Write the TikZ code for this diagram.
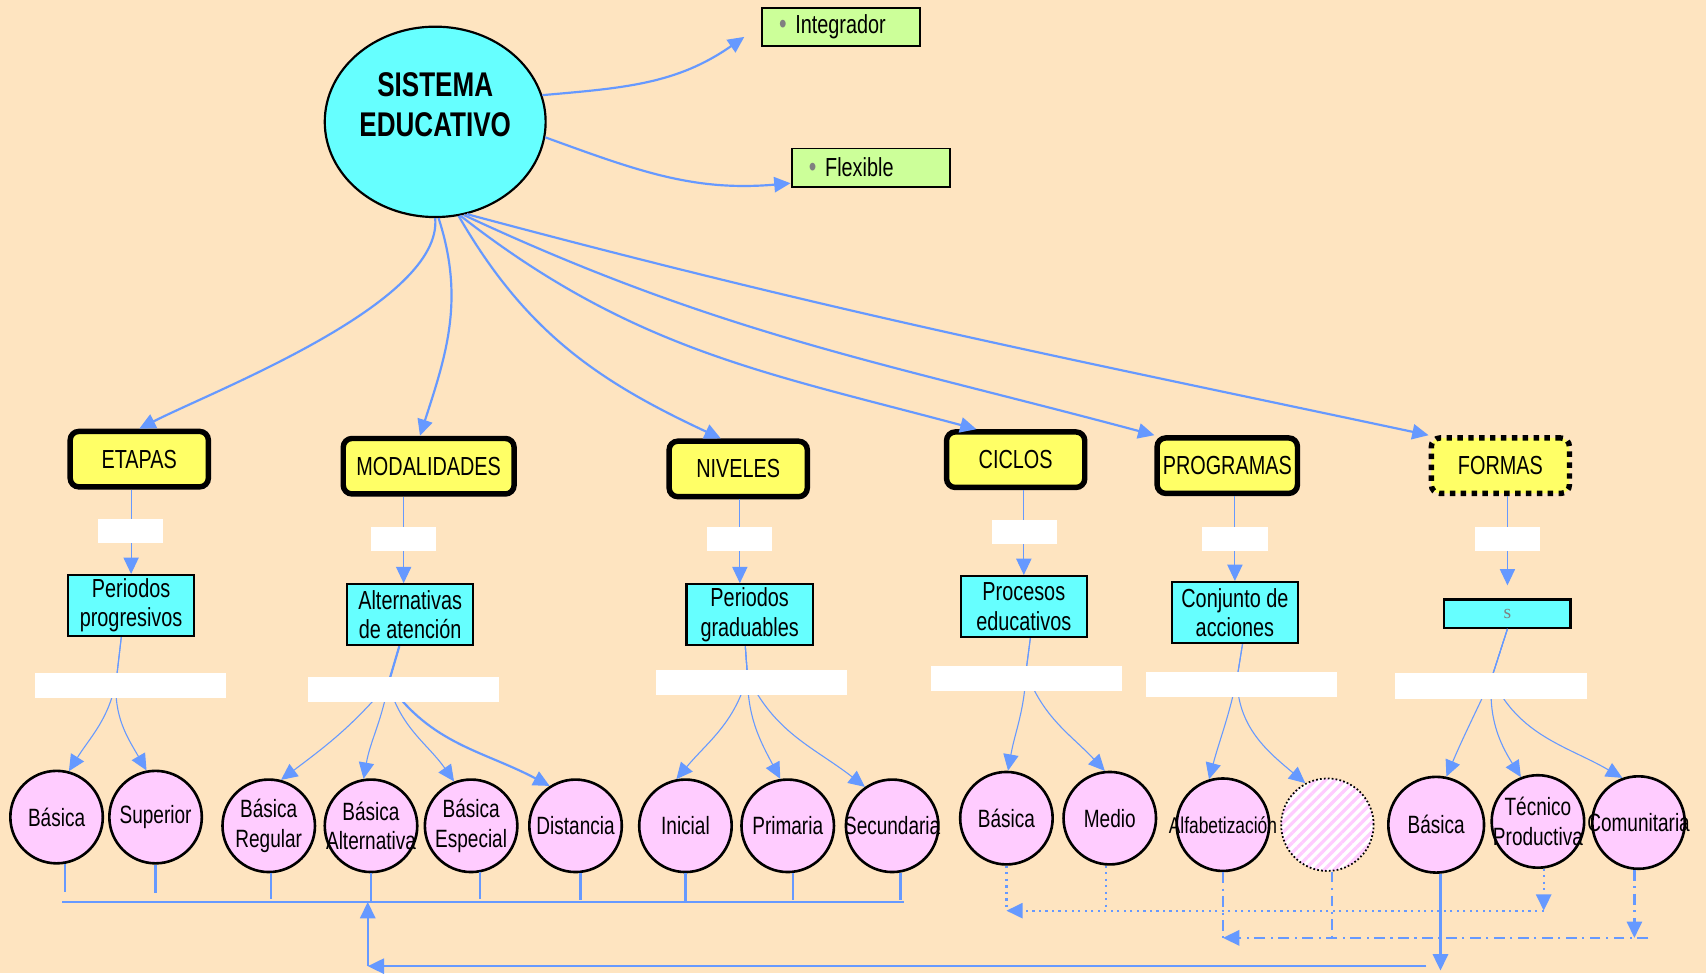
\documentclass[tikz,border=0pt]{standalone}
\usepackage{fontspec}
\setmainfont{Liberation Sans}[FakeStretch=0.76]
\newfontfamily\serifgris{Liberation Serif}
\usetikzlibrary{shapes.geometric,arrows.meta,patterns.meta}

\definecolor{fondo}{RGB}{254,228,192}
\definecolor{cian}{RGB}{102,255,255}
\definecolor{amarillo}{RGB}{255,255,102}
\definecolor{verde}{RGB}{204,255,153}
\definecolor{rosa}{RGB}{255,204,255}
\definecolor{azul}{RGB}{102,153,255}

\newcommand{\sinancho}[1]{\makebox[0pt]{#1}}
\newcommand{\punto}{\textcolor{gray}{\fontsize{13}{13}\selectfont•}}

\tikzset{
  raiz/.style={ellipse, draw, line width=1pt, fill=cian, inner sep=0pt,
    minimum width=101.5pt, minimum height=87.5pt, align=center,
    font=\fontsize{15.75}{18}\selectfont\bfseries},
  rasgo/.style={draw, line width=0.9pt, fill=verde, text width=57pt,
    inner xsep=8pt, inner ysep=0pt, minimum height=17.5pt, align=left,
    font=\fontsize{12}{13}\selectfont},
  grupo/.style={draw, line width=2.5pt, rounded corners=4pt, fill=amarillo,
    inner xsep=2pt, minimum width=63.5pt, minimum height=25.5pt,
    font=\fontsize{12}{13}\selectfont},
  detalle/.style={draw, line width=1pt, fill=cian, minimum width=58pt,
    minimum height=28pt, inner sep=1pt, align=center,
    font=\fontsize{12}{13.5}\selectfont},
  tipo/.style={circle, draw, line width=1.2pt, fill=rosa, minimum size=42.5pt,
    inner sep=0pt, align=center, font=\fontsize{11.5}{13.5}\selectfont},
  hueca/.style={circle, minimum size=42.5pt,
    preaction={fill=white},
    preaction={solid, pattern={Lines[angle=45,distance=3.2pt,line width=1.5pt]},
      pattern color=rosa},
    draw, densely dotted, line width=0.8pt},
  hueco/.style={fill=white, minimum width=30pt, minimum height=11pt, inner sep=0pt},
  huecol/.style={hueco, minimum width=88pt, minimum height=11.5pt},
  flecha/.style={draw=azul, -{Triangle[length=7.5pt,width=7pt]}},
  guia/.style={flecha, line width=1pt},
  fina/.style={flecha, line width=0.5pt},
  base/.style={draw=azul, line width=1pt},
  punteado/.style={base, dotted},
  rayapunto/.style={base, dash pattern=on 5pt off 2.5pt on 1pt off 2.5pt},
}

\begin{document}
\begin{tikzpicture}[x=0.5pt,y=-0.5pt]
    % fondo
    \fill[fondo] (0,0) rectangle (1568,894.3);
    \useasboundingbox (0,0) rectangle (1568,894.3);

    % raiz y rasgos
    \node[raiz] (sis) at (400,112) {SISTEMA\\EDUCATIVO\\[-2pt]\mbox{}};
    \node[rasgo] (integ) at (773,24.5) {\punto\ Integrador};
    \node[rasgo] (flex) at (800.5,154) {\punto\ Flexible};

    % grupos
    \node[grupo] (etapas) at (128,422) {ETAPAS};
    \node[grupo, minimum width=78.5pt] (modal) at (394,428.5) {MODALIDADES};
    \node[grupo] (niveles) at (678.5,431) {NIVELES};
    \node[grupo] (ciclos) at (933.5,422.5) {CICLOS};
    \node[grupo, minimum width=64.5pt] (progr) at (1128,428) {PROGRAMAS};
    \node[grupo, dash pattern=on 2.5pt off 2.5pt] (formas) at (1379,428) {FORMAS};

    % detalles
    \node[detalle] (prog) at (120.5,556.5) {Periodos\\progresivos};
    \node[detalle] (alt) at (377,565) {Alternativas\\de atención};
    \node[detalle] (grad) at (689,565) {Periodos\\graduables};
    \node[detalle] (proc) at (941,557.5) {Procesos\\educativos};
    \node[detalle] (conj) at (1135,563) {Conjunto de\\acciones};
    \node[detalle, minimum height=13pt] (sbox) at (1385.5,564)
        {\serifgris\fontsize{9}{9}\selectfont\textcolor{gray}{s}};

    % tipos
    \node[tipo] (b1) at (52,751) {Básica};
    \node[tipo] (sup) at (143,751) {Superior};
    \node[tipo] (breg) at (247,759) {Básica\\Regular};
    \node[tipo] (balt) at (341,759) {Básica\\\sinancho{Alternativa}};
    \node[tipo] (besp) at (433,759) {Básica\\Especial};
    \node[tipo] (dist) at (529,759) {Distancia};
    \node[tipo] (inic) at (630,759) {Inicial};
    \node[tipo] (prim) at (724,759) {Primaria};
    \node[tipo] (sec) at (820,759) {\sinancho{Secundaria}};
    \node[tipo] (bc) at (925,752) {Básica};
    \node[tipo] (med) at (1020,752) {Medio};
    \node[tipo, font=\fontsize{10.5}{12}\selectfont] (alf) at (1124,758) {\sinancho{Alfabetización}};
    \node[hueca] (hat) at (1220,758) {};
    \node[tipo, minimum size=44pt] (bf) at (1320,758) {Básica};
    \node[tipo] (tp) at (1413.5,755) {Técnico\\\sinancho{Productiva}};
    \node[tipo] (com) at (1506,756) {\sinancho{Comunitaria}};

    % enlaces de la raiz
    \draw[guia] (sis.14) to[out=5,in=215] ([shift={(-15,-9)}]integ.south west);
    \draw[guia] (sis.-8) to[out=-20,in=185] ([yshift=2pt]flex.south west);
    \draw[guia] (sis.south) to[out=-85,in=27,looseness=0.6] (etapas.north);
    \draw[guia] (sis.-88) to[out=-72,in=72] ([xshift=-4pt]modal.north);
    \draw[guia] (sis.-76) to[out=-60,in=155] ([xshift=-8pt]niveles.north);
    \draw[guia] (sis.-75) to[out=-38,in=165] ([xshift=-18pt]ciclos.north);
    \draw[guia] (sis.-73) to[out=-25,in=165] (progr.north west);
    \draw[guia] (sis.-71) to[out=-15,in=168] (formas.north west);

    % grupos a detalles
    \coordinate (am) at ([xshift=-3pt]alt.north);
    \coordinate (gm) at ([xshift=-4.5pt]grad.north);
    \coordinate (sm) at ([yshift=6pt]sbox.north);
    \draw[fina] (prog.north |- etapas.south) -- (prog.north);
    \draw[fina] (am |- modal.south) -- (am);
    \draw[fina] (gm |- niveles.south) -- (gm);
    \draw[fina] (proc.north |- ciclos.south) -- (proc.north);
    \draw[fina] (conj.north |- progr.south) -- (conj.north);
    \draw[fina] (sm |- formas.south) -- (sm);

    % puntos de reparto (bajo las etiquetas vacias)
    \coordinate (r1) at (107,624);
    \coordinate (r2) at (357,628);
    \coordinate (r3) at (687,621);
    \coordinate (r4) at (943,617);
    \coordinate (r5) at (1137,623);
    \coordinate (r6) at (1371,623);

    % detalles a tipos
    \draw[fina] ([xshift=-4.5pt]prog.south) -- (r1) to[out=-100,in=58] (b1.75);
    \draw[fina] ([xshift=-4.5pt]prog.south) -- (r1) to[out=-95,in=120] (sup.101);
    \draw[fina] ([xshift=-5pt]alt.south) -- (r2) to[out=-130,in=37] (breg.75);
    \draw[fina] ([xshift=-5pt]alt.south) -- (r2) to[out=-100,in=80] (balt.99);
    \draw[fina] ([xshift=-5pt]alt.south) -- (r2) to[out=-75,in=125] (besp.111);
    \draw[fina, line width=1pt] ([xshift=-5pt]alt.south) -- (r2) to[out=-55,in=152] (dist.123);
    \draw[fina] ([xshift=-2pt]grad.south) -- (r3) to[out=-105,in=50] (inic.101);
    \draw[fina] ([xshift=-2pt]grad.south) -- (r3) to[out=-90,in=118] (prim.99);
    \draw[fina] ([xshift=-2pt]grad.south) -- (r3) to[out=-65,in=142] (sec.125);
    \draw[fina] ([xshift=3pt]proc.south) -- (r4) to[out=-92,in=80] (bc.88);
    \draw[fina] ([xshift=3pt]proc.south) -- (r4) to[out=-70,in=133] (med.96);
    \draw[fina] ([xshift=3.5pt]conj.south) -- (r5) to[out=-102,in=75] (alf.107);
    \draw[fina] ([xshift=3.5pt]conj.south) -- (r5) to[out=-90,in=140] (hat.118);
    \draw[fina] (sbox.south) -- (r6) to[out=-115,in=67] (bf.78);
    \draw[fina] (sbox.south) -- (r6) to[out=-95,in=122] (tp.111);
    \draw[fina] (sbox.south) -- (r6) to[out=-65,in=150] (com.110);

    % base solida
    \coordinate (busL) at (57,829);
    \coordinate (busR) at (831,829);
    \draw[base] (busL) -- (busR);
    \draw[base] (b1.-80) -- ++(0,26);
    \draw[base] (sup.south) -- ++(0,26);
    \draw[base] (breg.-87) -- ++(0,24);
    \draw[base] (balt.south) -- (balt.south |- busL);
    \draw[base] (besp.-79) -- ++(0,24);
    \draw[base] (dist.-84) -- ++(0,25);
    \draw[base] (inic.south) -- ++(0,25);
    \draw[base] (prim.-84) -- ++(0,25);
    \draw[base] (sec.-80) -- ++(0,25);
    \coordinate (esq) at (338,888);
    \coordinate (cola1) at (1311,888);
    \draw[guia] (cola1) -- (esq);
    \draw[guia] (esq) -- (esq |- busL);
    \draw[guia] (bf.-85) -- ++(0,89);

    % base punteada
    \coordinate (nivA) at (0,837);
    \draw[punteado] (bc.south) -- (bc.south |- nivA);
    \draw[punteado] (med.-95) -- (med.-95 |- nivA);
    \draw[punteado, flecha] (tp.-83) -- (tp.-83 |- nivA);
    \draw[punteado, flecha] (tp.-83 |- nivA) -- (bc.south |- nivA);

    % base raya-punto
    \coordinate (nivB) at (0,862);
    \coordinate (cola2) at (1515,862);
    \draw[rayapunto] (alf.south) -- (alf.south |- nivB);
    \draw[rayapunto] (hat.-84) -- (hat.-84 |- nivB);
    \draw[rayapunto, flecha] (cola2) -- (alf.south |- nivB);
    \draw[rayapunto, flecha] (com.-95) -- (com.-95 |- nivB);

    % etiquetas vacias
    \node[hueco] (e1) at (120,488) {};
    \node[hueco] (e2) at (371,495) {};
    \node[hueco] (e3) at (679.5,495) {};
    \node[hueco] (e4) at (941.5,489) {};
    \node[hueco] (e5) at (1135,495) {};
    \node[hueco] (e6) at (1385.5,495) {};
    \node[huecol] (f1) at (120,630) {};
    \node[huecol] (f2) at (371,634) {};
    \node[huecol] (f3) at (690.5,627.5) {};
    \node[huecol] (f4) at (943.5,624) {};
    \node[huecol] (f5) at (1141,629) {};
    \node[huecol] (f6) at (1370.5,630.5) {};
\end{tikzpicture}
\end{document}
